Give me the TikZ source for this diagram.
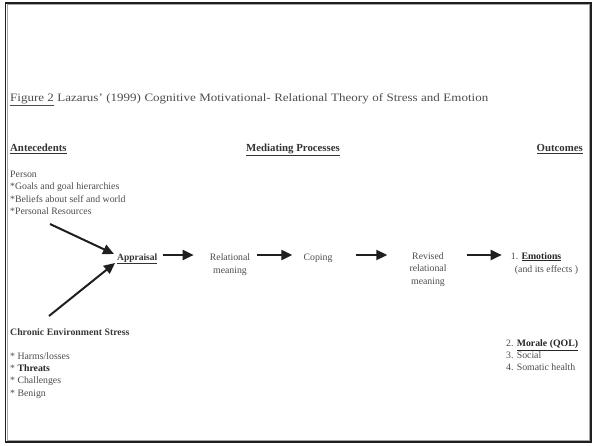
\documentclass[tikz,border=0pt]{standalone}
\usepackage{fontspec}
\setmainfont{Liberation Serif}
\newfontfamily\titlefont{Liberation Serif}[FakeStretch=1.15,Ligatures=TeX]
\usetikzlibrary{arrows.meta,calc}
\begin{document}
\begin{tikzpicture}[x=1pt,y=-1pt,
  txt/.style={inner sep=0pt,anchor=base west,text=black!70,font=\fontsize{9.8}{12.4}\selectfont,align=left},
  ctxt/.style={txt,anchor=base,align=center},
  hdr/.style={txt,font=\fontsize{10.8}{13}\selectfont\bfseries,text=black!80},
  arr/.style={draw=black!88,line width=2pt,-{Triangle[length=11pt,width=10pt]}},
  frame/.style={draw=black!88,line width=1.8pt},
  innerframe/.style={draw=black!35,line width=0.8pt}]
\useasboundingbox (0,0) rectangle (594,445);
\draw[frame] (5.5,3) rectangle (591,442);
\draw[innerframe] (7,4.5) rectangle (589.5,440.5);
% title
\node[txt,font=\titlefont\fontsize{11.3}{13}\selectfont] (title) at (10,101.5) {\makebox[478pt][s]{\underline{Figure 2} Lazarus’ (1999) Cognitive Motivational- Relational Theory of Stress and Emotion}};
% headers
\node[hdr] (ante) at (10,151.3) {\underline{Antecedents}};
\node[hdr] (med) at (246,151.3) {\underline{Mediating Processes}};
\node[hdr,anchor=base east] (out) at (583,151.3) {\underline{Outcomes}};
% person
\node[txt] (person) at (10,214.7) {Person\\*Goals and goal hierarchies\\*Beliefs about self and world\\*Personal Resources};
% chronic
\node[txt,font=\fontsize{9.8}{12}\selectfont\bfseries,text=black!78] (chronic) at (10,335.7) {Chronic Environment Stress};
\node[txt,font=\fontsize{9.8}{12.1}\selectfont] (harms) at (10,396) {* Harms/losses\\* \textbf{\textcolor{black!85}{Threats}}\\* Challenges\\* Benign};
% process chain
\node[txt,font=\fontsize{9.5}{12}\selectfont\bfseries,text=black!80] (appr) at (117,260) {\underline{Appraisal}};
\node[ctxt,font=\fontsize{9.8}{13}\selectfont] (rel) at (230,273) {Relational\\meaning};
\node[ctxt] (cop) at (318,260) {Coping};
\node[ctxt,font=\fontsize{9.8}{12.8}\selectfont] (rev) at (428,284.7) {Revised\\relational\\meaning};
\node[txt,font=\fontsize{9.8}{13}\selectfont] (emo) at (510.7,272) {1. \textbf{\textcolor{black!85}{\underline{Emotions}}}\\\hspace{4pt}(and its effects )};
\node[txt,font=\fontsize{9.8}{11.7}\selectfont] (mor) at (506,370.3) {2. \textbf{\textcolor{black!85}{\underline{Morale (QOL)}}}\\3. Social\\4. Somatic health};
% arrows
\coordinate (pstart) at (50,224);
\coordinate (cstart) at (49,316);
\draw[arr] (pstart) -- ($(appr.base west)+(-3,-6)$);
\draw[arr] (cstart) -- ($(appr.base west)+(-2,3)$);
\draw[arr] ($(appr.base east)+(5,-5)$) -- ($(rel.west |- appr.base)+(-16,-5)$);
\draw[arr] ($(rel.east |- appr.base)+(7,-5)$) -- ($(cop.base west)+(-11,-5)$);
\draw[arr] ($(cop.base east)+(23,-5)$) -- ($(rev.west |- appr.base)+(-22,-5)$);
\draw[arr] ($(rev.east |- appr.base)+(20,-5)$) -- ($(emo.west |- appr.base)+(-9,-5)$);
\end{tikzpicture}
\end{document}
